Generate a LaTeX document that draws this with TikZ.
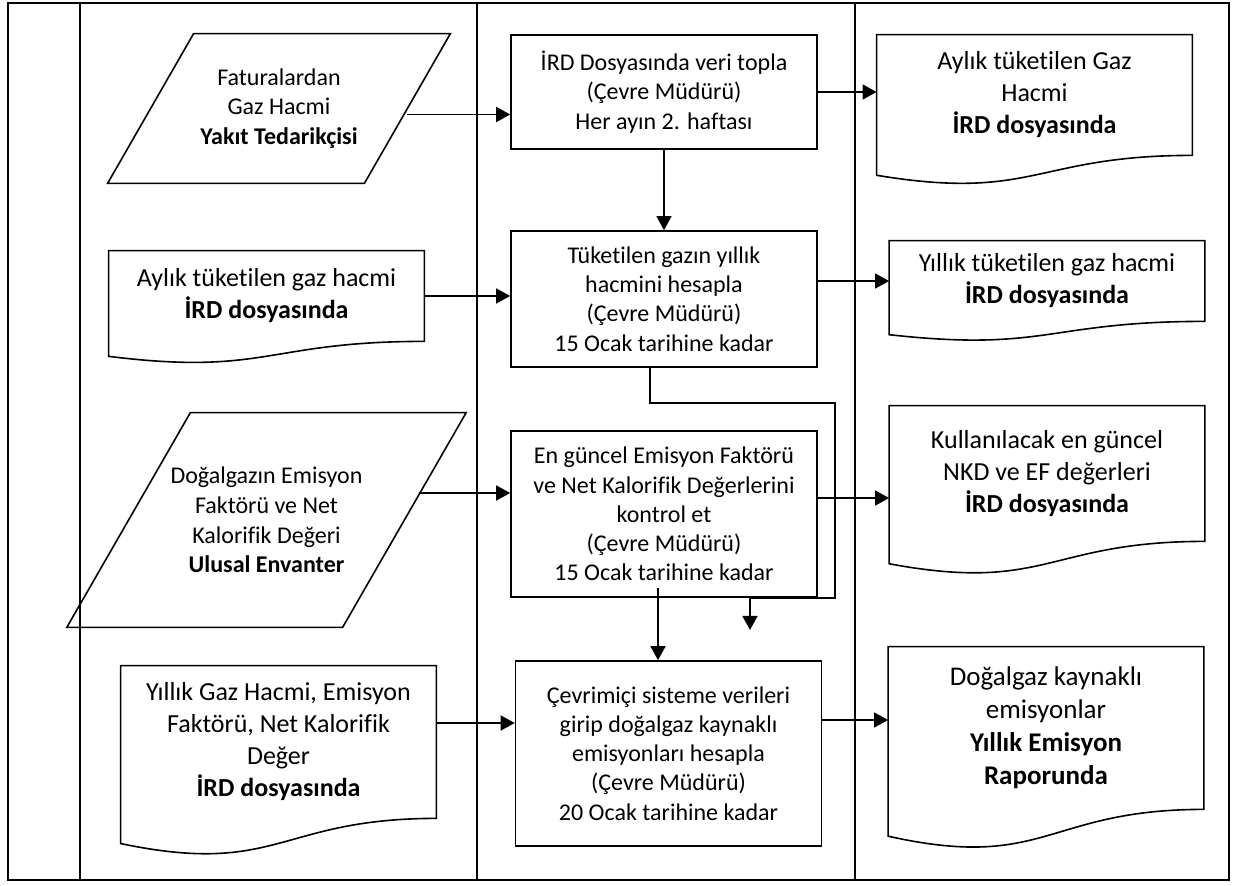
\documentclass[tikz,border=0pt]{standalone}
\usepackage{fontspec}
\setmainfont{Carlito}[Ligatures=NoCommon]
\usetikzlibrary{arrows.meta,calc}

\newcommand{\drawdoc}[1]{%
  \draw[outline] (#1.south east) -- (#1.north east) -- (#1.north west)
    -- ($(#1.north west)!1.1646!(#1.south west)$)
    .. controls ($(#1.north)!1.3815!(#1.south)$) and (#1.south) .. (#1.south east) -- cycle;}
\newcommand{\drawio}[2]{%
  \draw[outline] ([xshift=#2]#1.north west) -- ([xshift=#2]#1.north east)
    -- ([xshift=-#2]#1.south east) -- ([xshift=-#2]#1.south west) -- cycle;}

\begin{document}
\begin{tikzpicture}[x=0.5pt,y=-0.5pt,
  outline/.style={line width=0.8pt},
  lane/.style={line width=1pt},
  arr/.style={line width=0.75pt,-{Triangle[length=7pt,width=7.5pt]}},
  proc/.style={draw,outline,rectangle,align=center,minimum width=153pt,inner sep=0pt,font=\fontsize{12}{14.6}\selectfont},
  docbox/.style={rectangle,align=center,minimum width=157.5pt,inner sep=0pt,font=\fontsize{13}{16}\selectfont},
  iobox/.style={rectangle,align=center,inner sep=0pt,font=\fontsize{12}{14.8}\selectfont}]
\useasboundingbox (0,0) rectangle (1233,886);
\draw[line width=1.3pt] (8,3) rectangle (1229,880);
\draw[lane] (80,3) -- (80,880);
\draw[lane] (477,3) -- (477,880);
\draw[lane] (855,3) -- (855,880);

\node[iobox,minimum width=128pt,minimum height=74.5pt] (fatura) at (279,108.5) {Faturalardan\\Gaz Hacmi\\\textbf{Yakıt Tedarikçisi}};
\node[proc,minimum height=57pt] (topla) at (664,92) {İRD Dosyasında veri topla\\(Çevre Müdürü)\\Her ayın 2. haftası};
\node[docbox,minimum height=60pt] (aylikird) at (1034.5,95) {Aylık tüketilen Gaz\\Hacmi\\\textbf{İRD dosyasında}};

\node[docbox,minimum height=45pt] (aylik) at (266.5,296) {Aylık tüketilen gaz hacmi\\\textbf{İRD dosyasında}};
\node[proc,minimum height=68pt] (hesapla) at (664,299) {Tüketilen gazın yıllık\\hacmini hesapla\\(Çevre Müdürü)\\15 Ocak tarihine kadar};
\node[docbox,minimum height=40pt] (yillikird) at (1047,281) {Yıllık tüketilen gaz hacmi\\\textbf{İRD dosyasında}};

\node[iobox,minimum width=137.5pt,minimum height=107pt] (emisyon) at (266.5,520) {Doğalgazın Emisyon\\Faktörü ve Net\\Kalorifik Değeri\\\textbf{Ulusal Envanter}};
\node[proc,minimum height=83pt] (kontrol) at (664,514) {En güncel Emisyon Faktörü\\ve Net Kalorifik Değerlerini\\kontrol et\\(Çevre Müdürü)\\15 Ocak tarihine kadar};
\node[docbox,minimum height=67.5pt] (guncel) at (1047,473.5) {Kullanılacak en güncel\\NKD ve EF değerleri\\\textbf{İRD dosyasında}};

\node[docbox,minimum height=76pt] (yillikgaz) at (278.5,742) {Yıllık Gaz Hacmi, Emisyon\\Faktörü, Net Kalorifik\\Değer\\\textbf{İRD dosyasında}};
\node[proc,minimum height=92.5pt] (cevrimici) at (668.5,753.5) {Çevrimiçi sisteme verileri\\girip doğalgaz kaynaklı\\emisyonları hesapla\\(Çevre Müdürü)\\20 Ocak tarihine kadar};
\node[docbox,minimum height=81pt,font=\fontsize{13.5}{16.5}\selectfont] (rapor) at (1046,728) {Doğalgaz kaynaklı\\emisyonlar\\\textbf{Yıllık Emisyon}\\\textbf{Raporunda}};

\drawio{fatura}{21.5pt}
\drawio{emisyon}{30.9pt}
\drawdoc{aylikird}
\drawdoc{aylik}
\drawdoc{yillikird}
\drawdoc{guncel}
\drawdoc{yillikgaz}
\drawdoc{rapor}

\coordinate (k1) at (835,403);
\coordinate (k2) at (750,598);
\coordinate (k3) at (750,630);
\draw[arr] ([yshift=-3pt]fatura.east) -- ([yshift=-3pt]fatura.east -| topla.west);
\draw[arr] (topla.east) -- (topla.east -| aylikird.west);
\draw[arr] (topla) -- (hesapla);
\draw[arr] (aylik.east) -- (aylik.east -| hesapla.west);
\draw[arr] (yillikird.west -| hesapla.east) -- (yillikird.west);
\draw[arr] ([xshift=-7pt]hesapla.south) |- (k1) |- (k2) -- (k3);
\draw[arr] ([shift={(7.5pt,13.5pt)}]emisyon.east) -- ([yshift=13.5pt]emisyon.east -| kontrol.west);
\draw[arr] ([yshift=8pt]kontrol.east) -- ([yshift=8pt]kontrol.east -| guncel.west);
\draw[arr] ([shift={(-3pt,5pt)}]kontrol.south) -- ([xshift=-3pt]kontrol.south |- cevrimici.north);
\draw[arr] ([yshift=9.5pt]yillikgaz.east) -- ([yshift=9.5pt]yillikgaz.east -| cevrimici.west);
\draw[arr] ([yshift=4pt]rapor.west -| cevrimici.east) -- ([yshift=4pt]rapor.west);
\end{tikzpicture}
\end{document}
